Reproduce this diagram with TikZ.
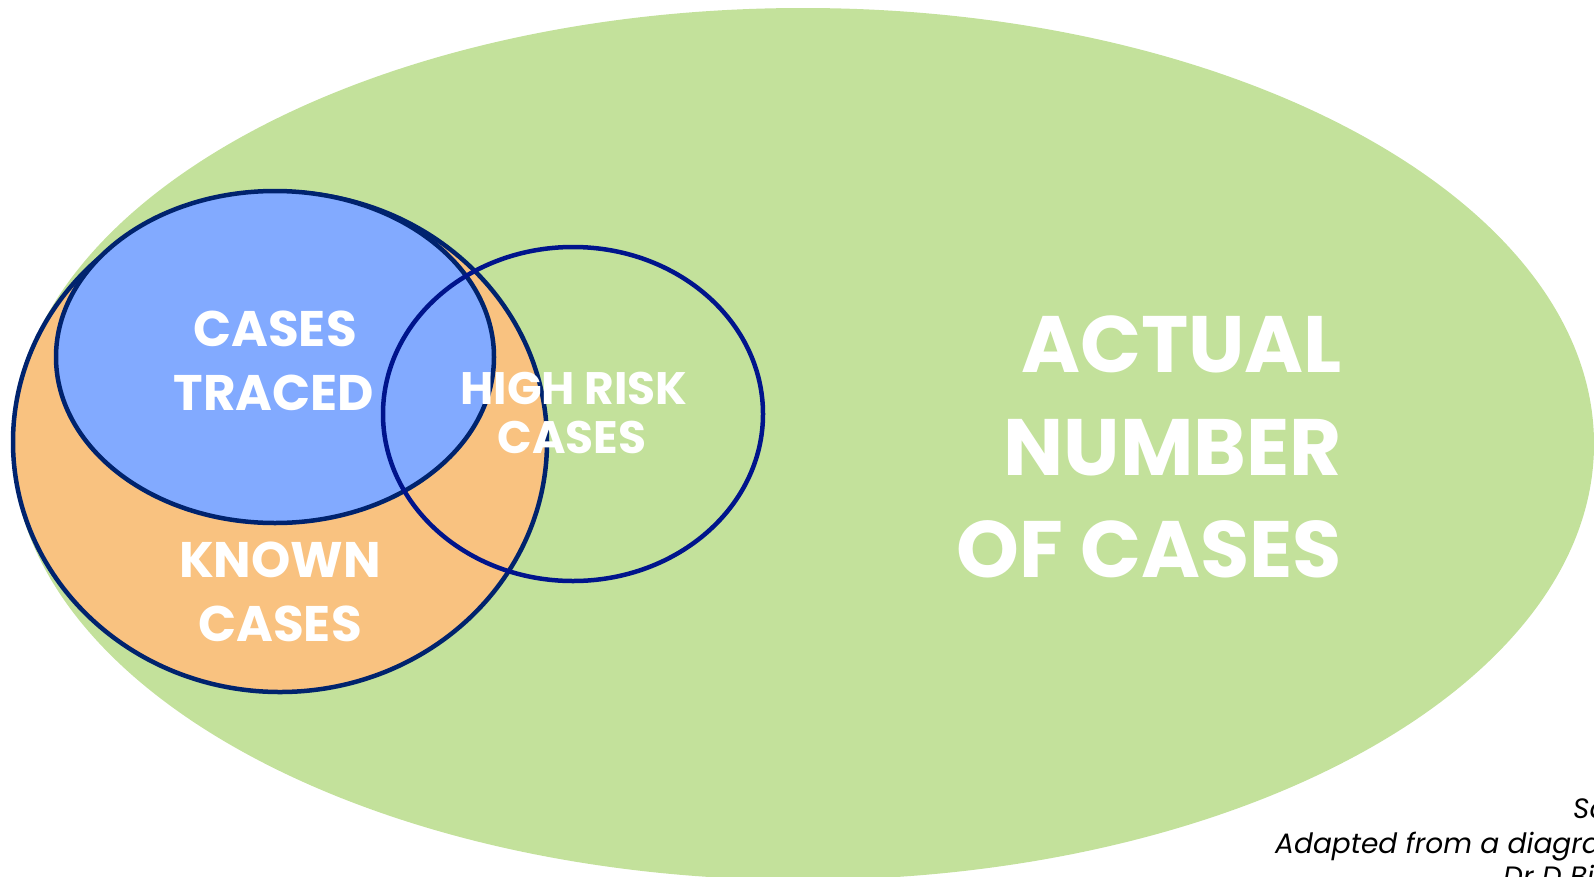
\documentclass[tikz,border=0pt]{standalone}
\usepackage{fontspec}
\setmainfont{Poppins}
\begin{document}
\begin{tikzpicture}[x=1pt,y=-1pt,
  lab/.style={text=white,font=\bfseries,anchor=base,inner sep=0pt},
  foot/.style={text=black,font=\itshape\fontsize{28}{33}\selectfont,anchor=base west,inner sep=0pt}]
\definecolor{gbg}{RGB}{195,225,155}
\definecolor{kfill}{RGB}{249,194,128}
\definecolor{tfill}{RGB}{130,170,255}
\definecolor{navy}{RGB}{0,35,110}
\definecolor{hrline}{RGB}{0,20,140}
\useasboundingbox (0,0) rectangle (1594,876);
\fill[gbg] (803,444) ellipse [x radius=791, y radius=436];
\filldraw[fill=kfill,draw=navy,line width=4.5pt] (280,442) ellipse [x radius=267, y radius=250];
\filldraw[fill=tfill,draw=navy,line width=4.5pt] (275,357) ellipse [x radius=219, y radius=166];
\draw[hrline,line width=4.5pt] (573,414) ellipse [x radius=190, y radius=167];
% labels
\node[lab,font=\bfseries\fontsize{50}{56}\selectfont] (t1) at (275,346) {CASES};
\node[lab,font=\bfseries\fontsize{50}{56}\selectfont] (t2) at (274,410) {TRACED};
\node[lab,font=\bfseries\fontsize{50}{56}\selectfont] (k1) at (280,577) {KNOWN};
\node[lab,font=\bfseries\fontsize{50}{56}\selectfont] (k2) at (280,641) {CASES};
\node[lab,font=\bfseries\fontsize{45.5}{51}\selectfont] (h1) at (574,404) {HIGH RISK};
\node[lab,font=\bfseries\fontsize{45.5}{51}\selectfont] (h2) at (572,453) {CASES};
\node[lab,anchor=base east,font=\bfseries\fontsize{80}{90}\selectfont] (a1) at (1342,372) {ACTUAL};
\node[lab,anchor=base east,font=\bfseries\fontsize{80}{90}\selectfont] (a2) at (1342,475) {NUMBER};
\node[lab,anchor=base east,font=\bfseries\fontsize{80}{90}\selectfont] (a3) at (1342,577) {OF CASES};
% footer
\node[foot] (f1) at (1573,818) {Sa};
\node[foot] (f2) at (1275,853) {Adapted from a diagra};
\node[foot] (f3) at (1503,886) {Dr D Bi};
\end{tikzpicture}
\end{document}
